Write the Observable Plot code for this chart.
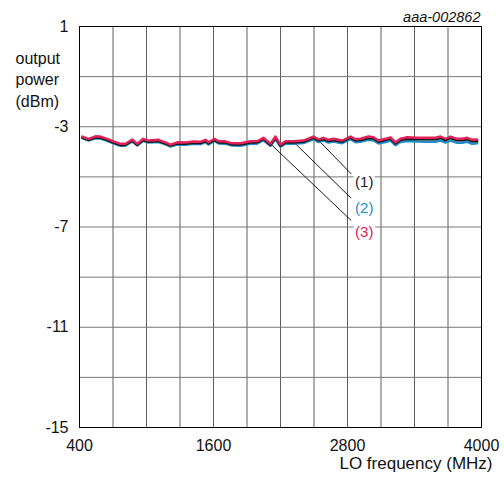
<!DOCTYPE html>
<html>
<head>
<meta charset="utf-8">
<script src="https://cdn.jsdelivr.net/npm/d3@7"></script>
<script src="https://cdn.jsdelivr.net/npm/@observablehq/plot@0.6"></script>
<style>
  html, body { margin: 0; padding: 0; background: #fff; }
  #chart svg { display: block; }
</style>
</head>
<body>
<div id="chart"></div>
<script>
const freq = [424,481,543,588,648,704,767,812,872,917,970,1018,1107,1170,1215,1275,1349,1421,1484,1528,1555,1609,1645,1707,1767,1842,1931,1991,2048,2110,2155,2200,2245,2316,2406,2493,2540,2585,2630,2675,2752,2827,2872,2916,2988,3033,3078,3140,3185,3230,3275,3335,3424,3514,3588,3633,3678,3722,3782,3827,3872,3917,3962];
const series3 = [-3.39,-3.48,-3.38,-3.39,-3.48,-3.58,-3.68,-3.68,-3.51,-3.68,-3.48,-3.55,-3.52,-3.62,-3.71,-3.62,-3.63,-3.59,-3.60,-3.52,-3.62,-3.48,-3.58,-3.58,-3.66,-3.66,-3.58,-3.58,-3.44,-3.68,-3.39,-3.71,-3.58,-3.58,-3.55,-3.39,-3.50,-3.44,-3.52,-3.48,-3.55,-3.39,-3.50,-3.48,-3.39,-3.42,-3.55,-3.48,-3.42,-3.62,-3.48,-3.42,-3.44,-3.44,-3.44,-3.39,-3.48,-3.39,-3.48,-3.48,-3.44,-3.52,-3.51];
const series1 = [-3.43,-3.52,-3.43,-3.44,-3.53,-3.63,-3.73,-3.72,-3.56,-3.72,-3.53,-3.60,-3.57,-3.67,-3.75,-3.67,-3.68,-3.64,-3.65,-3.57,-3.67,-3.53,-3.63,-3.63,-3.71,-3.71,-3.63,-3.63,-3.49,-3.73,-3.44,-3.76,-3.63,-3.63,-3.60,-3.44,-3.55,-3.49,-3.57,-3.53,-3.60,-3.44,-3.55,-3.53,-3.45,-3.47,-3.60,-3.53,-3.47,-3.67,-3.53,-3.48,-3.50,-3.50,-3.50,-3.45,-3.54,-3.45,-3.54,-3.54,-3.50,-3.58,-3.57];
const series2 = [-3.45,-3.55,-3.46,-3.47,-3.56,-3.66,-3.76,-3.76,-3.59,-3.75,-3.57,-3.63,-3.61,-3.70,-3.79,-3.71,-3.72,-3.68,-3.69,-3.61,-3.71,-3.57,-3.67,-3.68,-3.75,-3.76,-3.68,-3.68,-3.54,-3.77,-3.49,-3.80,-3.68,-3.68,-3.65,-3.50,-3.61,-3.55,-3.63,-3.59,-3.66,-3.50,-3.62,-3.60,-3.52,-3.55,-3.67,-3.61,-3.55,-3.74,-3.61,-3.57,-3.59,-3.60,-3.60,-3.55,-3.63,-3.55,-3.64,-3.64,-3.60,-3.68,-3.66];

const xTicks = [400, 1600, 2800, 4000];
const yTicks = [1, -3, -7, -11, -15];
const xGrid = [400,700,1000,1300,1600,1900,2200,2500,2800,3100,3400,3700,4000];
const yGrid = [1,-1,-3,-5,-7,-9,-11,-13,-15];

const labels = ["(1)", "(2)", "(3)"];
const labelColors = ["#222222", "#1f8dcb", "#e3215a"];
const calloutFromX = [2558, 2334, 2110];
const calloutFromY = [-3.62, -3.68, -3.68];
const calloutToX = [2833, 2833, 2833];
const calloutToY = [-4.88, -5.85, -6.74];
const labelX = [2950, 2950, 2950];
const labelY = [-5.22, -6.26, -7.22];

const toRows = (vals) => freq.map((f, i) => ({f, v: vals[i]}));
const callouts = labels.map((l, i) => ({l, x1: calloutFromX[i], y1: calloutFromY[i], x2: calloutToX[i], y2: calloutToY[i], lx: labelX[i], ly: labelY[i], c: labelColors[i]}));

const font = "Liberation Sans, Arial, sans-serif";

const chart = Plot.plot({
  width: 504,
  height: 477,
  marginLeft: 79,
  marginRight: 23,
  marginTop: 26,
  marginBottom: 50,
  style: {fontFamily: font, fontSize: "16px", background: "#fff", color: "#111"},
  x: {domain: [400, 4000], label: null},
  y: {domain: [-15, 1], label: null},
  marks: [
    Plot.ruleX(xGrid, {stroke: "#5f5f5f", strokeWidth: 1}),
    Plot.ruleY(yGrid, {stroke: "#777", strokeWidth: 1}),
    Plot.frame({stroke: "#000", strokeWidth: 1}),
    Plot.axisX({ticks: xTicks, tickSize: 0, tickPadding: 12, fontSize: 16, tickFormat: d => String(d), label: null}),
    Plot.axisY({ticks: yTicks, tickSize: 0, tickPadding: 11, fontSize: 16, tickFormat: d => String(d).replace("\u2212", "-"), label: null}),
    Plot.link(callouts, {x1: "x1", y1: "y1", x2: "x2", y2: "y2", stroke: "#000", strokeWidth: 0.9}),
    Plot.line(toRows(series2), {x: "f", y: "v", stroke: "#1f8dcb", strokeWidth: 2.4}),
    Plot.line(toRows(series1), {x: "f", y: "v", stroke: "#1a1a1a", strokeWidth: 2.4}),
    Plot.line(toRows(series3), {x: "f", y: "v", stroke: "#e3215a", strokeWidth: 2.4}),
    Plot.text(callouts, {x: "lx", y: "ly", text: "l", fill: "c", fontSize: 15, stroke: "white", strokeWidth: 7, paintOrder: "stroke"}),
    Plot.text(["output\npower\n(dBm)"], {frameAnchor: "top-left", dx: -64, dy: 22, textAnchor: "start", lineAnchor: "top", fontSize: 16, lineHeight: 1.34, fill: "#111"}),
    Plot.text(["aaa-002862"], {frameAnchor: "top-right", dx: -1, dy: -15, textAnchor: "end", fontSize: 14.5, fontStyle: "italic", fill: "#111"}),
    Plot.text(["LO frequency (MHz)"], {frameAnchor: "bottom-right", dx: 11, dy: 41, textAnchor: "end", fontSize: 17, fill: "#111"})
  ]
});
document.getElementById("chart").appendChild(chart);
</script>
</body>
</html>
